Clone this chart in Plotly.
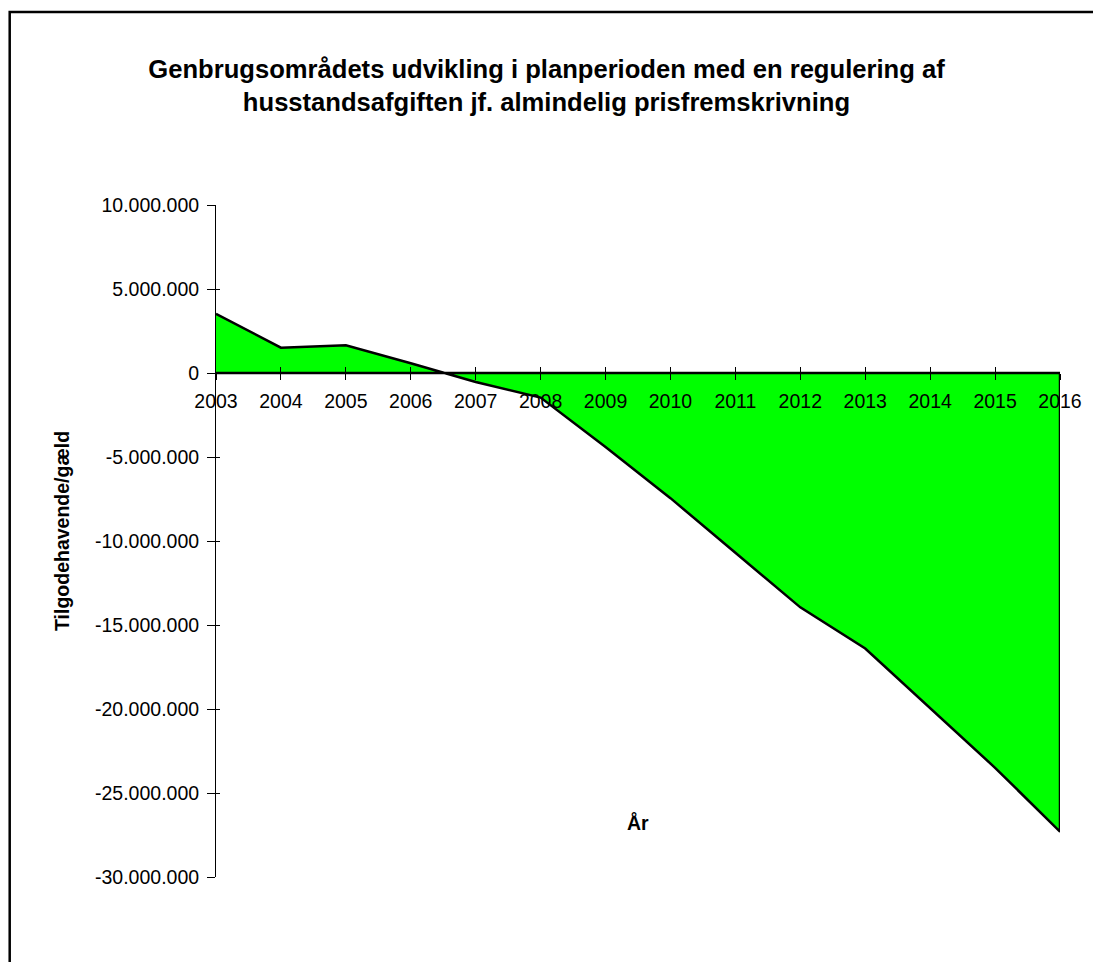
import plotly.graph_objects as go

years = ["2003", "2004", "2005", "2006", "2007", "2008", "2009",
         "2010", "2011", "2012", "2013", "2014", "2015", "2016"]
balance = [3520000, 1510000, 1650000, 580000, -540000, -1460000, -4400000,
           -7450000, -10700000, -13950000, -16400000, -19950000, -23500000, -27300000]
y_ticks = [10000000, 5000000, 0, -5000000, -10000000, -15000000,
           -20000000, -25000000, -30000000]
y_tick_text = ["{:,}".format(v).replace(",", ".") for v in y_ticks]

title_text = ("Genbrugsområdets udvikling i planperioden med en regulering af<br>"
              "husstandsafgiften jf. almindelig prisfremskrivning")
x_title = "År"
y_title = "Tilgodehavende/gæld"

FONT = "Arial, 'Liberation Sans', sans-serif"
W, H = 1093, 962
L, R, T, B = 216, 33, 205, 85
pw, ph = W - L - R, H - T - B

fig = go.Figure()
# closed area polygon (Excel-style area with outline)
fig.add_trace(go.Scatter(
    x=years + [years[-1], years[0]],
    y=balance + [0, 0],
    mode="lines", fill="toself", fillcolor="#00FF00",
    line=dict(color="black", width=2.5),
    hoverinfo="skip", showlegend=False,
))
# invisible trace to create overlay axes for crossing tick marks
fig.add_trace(go.Scatter(
    x=[years[0]], y=[0], xaxis="x2", yaxis="y2",
    mode="markers", marker=dict(opacity=0), hoverinfo="skip", showlegend=False,
))

ymin, ymax = -30000000, 10000000
zero_pos = (0 - ymin) / (ymax - ymin)

common_x = dict(type="category", categoryorder="array", categoryarray=years,
                range=[0, len(years) - 1], showgrid=False, zeroline=False)
common_y = dict(range=[ymin, ymax], tickvals=y_ticks, showgrid=False, zeroline=False)

fig.update_layout(
    width=W, height=H,
    margin=dict(l=L, r=R, t=T, b=B),
    paper_bgcolor="white", plot_bgcolor="white",
    font=dict(family=FONT, color="black", size=19.5),
    title=dict(text=title_text, x=0.5, xref="container", xanchor="center",
               y=1 - 77.5 / H, yref="container", yanchor="middle",
               font=dict(family=FONT, size=25.6, color="black", weight="bold")),
    xaxis=dict(**common_x, anchor="free", position=zero_pos,
               ticks="outside", ticklen=6, tickcolor="black", tickwidth=1,
               showline=True, linecolor="black", linewidth=1,
               tickfont=dict(size=19.5), ticklabelstandoff=5),
    xaxis2=dict(**common_x, overlaying="x", anchor="free", position=zero_pos,
                ticks="inside", ticklen=6, tickcolor="black", tickwidth=1,
                showticklabels=False, showline=False),
    yaxis=dict(**common_y, ticktext=y_tick_text,
               ticks="outside", ticklen=8, tickcolor="black", tickwidth=1,
               showline=True, linecolor="black", linewidth=1,
               tickfont=dict(size=19.5), ticklabelstandoff=4),
    yaxis2=dict(**common_y, overlaying="y", anchor="x2",
                ticks="inside", ticklen=4, tickcolor="black", tickwidth=1,
                showticklabels=False, showline=False),
    annotations=[
        dict(text=x_title, x=0.5, y=(H - B - 822) / ph, xref="paper", yref="paper",
             showarrow=False, xanchor="center", yanchor="middle",
             font=dict(family=FONT, size=19.5, weight="bold")),
        dict(text=y_title, x=(62 - L) / pw, y=(H - B - 531) / ph, xref="paper", yref="paper",
             showarrow=False, xanchor="center", yanchor="middle", textangle=-90,
             font=dict(family=FONT, size=19.5, weight="bold")),
    ],
    shapes=[
        dict(type="rect", xref="paper", yref="paper",
             x0=(9.7 - L) / pw, x1=(W + 20 - L) / pw,
             y0=(H - B - (H + 20)) / ph, y1=(H - B - 12) / ph,
             line=dict(color="black", width=2.5), fillcolor="rgba(0,0,0,0)",
             layer="below"),
    ],
)

fig.write_html("out.html",
               config={"displayModeBar": False},
               post_script="document.body.style.margin='0';document.body.style.overflow='hidden';")
